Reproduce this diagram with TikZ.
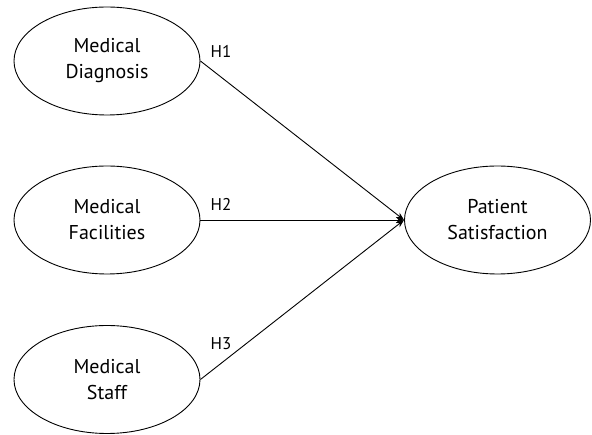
\documentclass[tikz,border=0pt]{standalone}
\usepackage{fontspec}
\setmainfont{PT Sans}
\usepackage{tikz}
\usetikzlibrary{shapes, arrows.meta}

\begin{document}
\begin{tikzpicture}[
   x=1pt, y=-1pt,
   latent/.style={ellipse, draw=black, fill=white, line width=0.9, text=black,
                  inner sep=0, minimum width=186, minimum height=108,
                  align=center, font=\fontsize{20}{26}\selectfont},
   hyplabel/.style={text=black, inner sep=0, font=\fontsize{17}{20}\selectfont}
  ]

  \useasboundingbox (0, 0) rectangle (592, 435);

  % Exogenous constructs
  \node (D) at (107, 61) [latent] {Medical\\Diagnosis};
  \node (F) at (107, 220) [latent] {Medical\\Facilities};
  \node (S) at (107, 379.5) [latent] {Medical\\Staff};

  % Endogenous construct
  \node (P) at (497.5, 220) [latent] {Patient\\Satisfaction};

  % Hypotheses
  \node (H1) at (221, 51) [hyplabel] {H1};
  \node (H2) at (221, 204) [hyplabel] {H2};
  \node (H3) at (221, 344) [hyplabel] {H3};

  \foreach \B/\E in {D/P, F/P, S/P} {
    \draw[->, >={Stealth[length=8pt, width=6pt]}, color=black, line width=0.9] (\B.east) -- (\E.west);
  }

\end{tikzpicture}
\end{document}
